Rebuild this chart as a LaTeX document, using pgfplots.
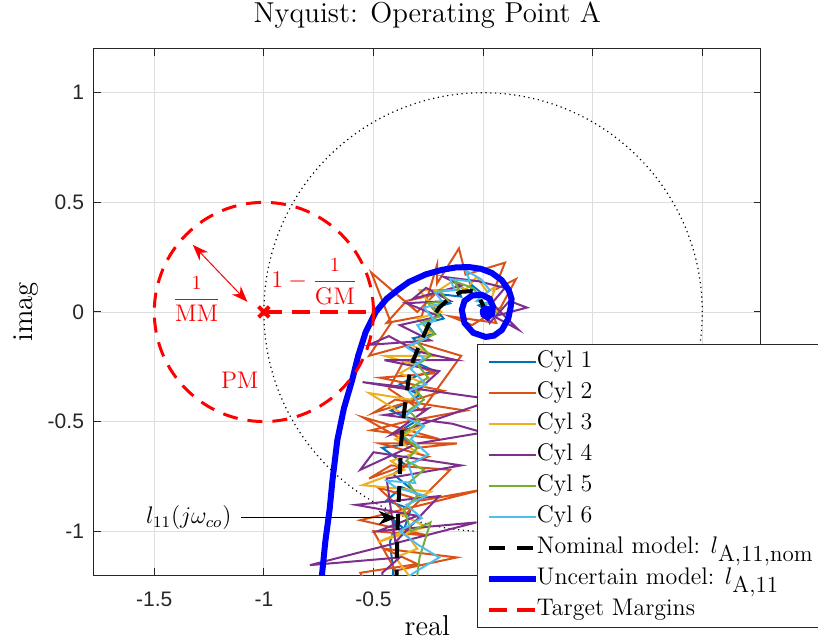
\documentclass[border=0pt]{standalone}
\usepackage{pgfplots}
\pgfplotsset{compat=1.18}
\usepackage{fontspec}
\setsansfont{Liberation Sans}
\usetikzlibrary{arrows.meta}
\definecolor{c1}{rgb}{0,0.447,0.741}
\definecolor{c2}{rgb}{0.850,0.325,0.098}
\definecolor{c3}{rgb}{0.929,0.694,0.125}
\definecolor{c4}{rgb}{0.494,0.184,0.556}
\definecolor{c5}{rgb}{0.466,0.674,0.188}
\definecolor{c6}{rgb}{0.301,0.745,0.933}
\definecolor{axc}{rgb}{0.15,0.15,0.15}
\newcommand{\subtxt}[1]{\raisebox{-4pt}{\fontsize{11.5}{12}\selectfont #1}}
\begin{document}
\begin{tikzpicture}
\begin{axis}[name=ax,
  x=109.6pt, y=109.6pt,
  xmin=-1.775, xmax=1.266, ymin=-1.2, ymax=1.2,
  xtick={-1.5,-1,-0.5,0,0.5,1}, xticklabels={-1.5,-1,-0.5,0,0.5,1},
  ytick={-1,-0.5,0,0.5,1}, yticklabels={-1,-0.5,0,0.5,1},
  tick align=inside, major tick length=3.5pt,
  grid=major, major grid style={line width=0.4pt, color=black!13},
  axis line style={line width=0.5pt, color=axc},
  every tick/.style={axc, line width=0.5pt},
  tick label style={font=\sffamily\fontsize{10.5}{12}\selectfont, color=axc},
  xticklabel style={yshift=-5pt},
  yticklabel style={xshift=-1.5pt},
  title={Nyquist: Operating Point A},
  title style={font=\fontsize{14.4}{17}\selectfont, at={(axis description cs:0.5,1)}, anchor=base, yshift=7pt},
  xlabel={real},
  xlabel style={font=\fontsize{14.4}{17}\selectfont, at={(axis description cs:0.5,0)}, anchor=base, yshift=-30pt},
  ylabel={imag},
  ylabel style={font=\fontsize{14.4}{17}\selectfont, at={(axis description cs:-0.093,0.5)}, anchor=base},
  legend style={at={(axis description cs:0.5746,0.4392)}, anchor=north west, draw=axc, line width=0.5pt, fill=white,
    font=\fontsize{12}{14}\selectfont, inner xsep=4pt, inner ysep=1pt, row sep=0pt, cells={anchor=west},
    nodes={inner xsep=0pt, inner ysep=1.5pt, text height=9pt, text depth=3.5pt},
    /tikz/every odd column/.append style={column sep=-0.8pt}},
  legend image code/.code={\draw[#1] (0pt,0pt) -- (23.5pt,0pt);},
]
\draw[black, line width=0.6pt, dash pattern=on 0.6pt off 1.8pt] (axis cs:0,0) circle[radius=1];

\addplot[c1, line width=1pt] coordinates {
(-0.42,-1.32) (-0.41,-1.18) (-0.425,-1.05) (-0.40,-0.97) (-0.43,-0.93) (-0.36,-0.99) (-0.33,-0.9) (-0.44,-0.86) (-0.37,-0.8) (-0.30,-0.83) (-0.41,-0.74) (-0.35,-0.7) (-0.46,-0.62) (-0.33,-0.6) (-0.39,-0.55) (-0.31,-0.5) (-0.42,-0.45) (-0.36,-0.42) (-0.29,-0.38) (-0.38,-0.33) (-0.30,-0.29) (-0.22,-0.27) (-0.33,-0.22) (-0.27,-0.17) (-0.32,-0.12) (-0.22,-0.1) (-0.26,-0.05) (-0.18,-0.03) (-0.22,0.02) (-0.15,0.04) (-0.19,0.08) (-0.10,0.07) (-0.12,0.12) (-0.05,0.09) (-0.06,0.13) (0.0,0.08) (0.04,0.05) (-0.02,0.03) (0.03,0.0) (0.01,-0.02) (0.015,0.0)};
\addlegendentry{Cyl 1}
\addplot[c2, line width=1pt] coordinates {
(-0.50,-1.32) (-0.56,-1.19) (-0.30,-1.15) (-0.45,-1.08) (-0.12,-1.12) (-0.40,-1.18) (-0.50,-1.0) (-0.25,-1.02) (-0.56,-0.95) (0.0,-0.81) (-0.28,-0.86) (-0.48,-0.80) (-0.35,-0.92) (-0.15,-0.72) (-0.42,-0.70) (-0.52,-0.76) (-0.25,-0.66) (-0.47,-0.6) (-0.12,-0.6) (-0.30,-0.62) (-0.55,-0.48) (-0.2,-0.58) (-0.51,-0.54) (-0.35,-0.50) (-0.08,-0.45) (-0.40,-0.40) (-0.50,-0.46) (-0.18,-0.36) (-0.47,-0.30) (-0.22,-0.28) (-0.36,-0.22) (-0.43,-0.35) (-0.28,-0.45) (-0.10,-0.20) (-0.30,-0.14) (-0.52,-0.2) (-0.42,-0.05) (-0.51,0.18) (-0.30,0.0) (-0.22,0.08) (-0.35,0.05) (-0.44,-0.05) (-0.28,-0.02) (-0.21,0.215) (-0.21,0.13) (-0.11,0.29) (-0.08,0.17) (0.10,0.225) (0.05,0.10) (0.15,0.15) (0.08,0.02) (-0.05,-0.06) (-0.15,-0.02) (0.06,-0.05) (0.03,0.02) (0.015,0.0)};
\addlegendentry{Cyl 2}
\addplot[c3, line width=1pt] coordinates {
(-0.36,-1.32) (-0.34,-1.2) (-0.40,-1.12) (-0.30,-1.08) (-0.36,-1.0) (-0.48,-1.05) (-0.26,-0.98) (-0.38,-0.92) (-0.32,-0.86) (-0.24,-0.82) (-0.55,-0.79) (-0.36,-0.72) (-0.42,-0.68) (-0.30,-0.64) (-0.40,-0.58) (-0.28,-0.52) (-0.36,-0.47) (-0.52,-0.37) (-0.33,-0.4) (-0.26,-0.33) (-0.38,-0.28) (-0.31,-0.24) (-0.45,-0.2) (-0.22,-0.2) (-0.33,-0.15) (-0.24,-0.09) (-0.30,-0.03) (-0.19,0.0) (-0.26,0.06) (-0.29,0.10) (-0.20,0.10) (-0.14,0.14) (-0.08,0.10) (-0.03,0.16) (0.02,0.09) (0.06,0.12) (0.03,0.04) (0.07,0.0) (0.02,-0.03) (0.015,0.0)};
\addlegendentry{Cyl 3}
\addplot[c4, line width=1pt] coordinates {
(-0.46,-1.32) (-0.46,-1.19) (-0.38,-1.12) (-0.79,-1.155) (-0.03,-0.96) (-0.48,-1.0) (-0.30,-0.93) (-0.58,-0.88) (-0.20,-0.84) (-0.40,-1.05) (-0.44,-0.76) (-0.10,-0.70) (-0.50,-0.64) (-0.56,-0.72) (-0.30,-0.60) (0.0,-0.55) (-0.14,-0.51) (-0.45,-0.47) (-0.25,-0.44) (-0.42,-0.56) (0.05,-0.40) (-0.38,-0.34) (-0.55,-0.32) (-0.30,-0.36) (-0.20,-0.27) (-0.45,-0.22) (-0.12,-0.22) (-0.30,-0.18) (-0.43,-0.11) (-0.52,-0.15) (-0.24,-0.13) (-0.38,-0.06) (-0.20,-0.02) (-0.35,0.04) (-0.15,0.05) (-0.26,0.11) (-0.32,0.06) (-0.10,0.12) (-0.18,0.16) (-0.02,0.14) (0.10,0.11) (0.04,0.04) (0.16,-0.08) (0.05,-0.02) (0.20,0.02) (0.12,0.05) (0.03,-0.05) (0.015,0.0)};
\addlegendentry{Cyl 4}
\addplot[c5, line width=1pt] coordinates {
(-0.32,-1.32) (-0.30,-1.2) (-0.29,-1.12) (-0.24,-0.96) (-0.33,-1.0) (-0.36,-0.9) (-0.30,-0.84) (-0.34,-0.78) (-0.27,-0.72) (-0.35,-0.68) (-0.30,-0.62) (-0.37,-0.56) (-0.29,-0.50) (-0.34,-0.45) (-0.27,-0.40) (-0.32,-0.34) (-0.25,-0.30) (-0.30,-0.24) (-0.24,-0.20) (-0.30,-0.14) (-0.22,-0.10) (-0.28,-0.05) (-0.20,-0.02) (-0.25,0.04) (-0.16,0.05) (-0.20,0.10) (-0.11,0.10) (-0.13,0.14) (-0.05,0.11) (-0.02,0.08) (0.04,0.06) (0.0,0.02) (0.05,0.0) (0.015,0.0)};
\addlegendentry{Cyl 5}
\addplot[c6, line width=1pt] coordinates {
(-0.42,-1.32) (-0.36,-1.22) (-0.30,-1.18) (-0.20,-1.12) (-0.30,-1.06) (-0.38,-1.0) (-0.28,-0.94) (-0.35,-0.88) (-0.26,-0.84) (-0.40,-0.80) (-0.44,-0.77) (-0.31,-0.78) (-0.34,-0.70) (-0.25,-0.65) (-0.33,-0.58) (-0.27,-0.52) (-0.36,-0.48) (-0.29,-0.42) (-0.34,-0.36) (-0.26,-0.33) (-0.33,-0.26) (-0.27,-0.21) (-0.35,-0.16) (-0.26,-0.12) (-0.30,-0.06) (-0.22,-0.04) (-0.27,0.02) (-0.18,0.04) (-0.22,0.09) (-0.13,0.10) (-0.15,0.15) (-0.06,0.14) (-0.08,0.19) (-0.01,0.15) (0.03,0.10) (-0.03,0.05) (0.05,0.03) (0.0,-0.02) (0.015,0.0)};
\addlegendentry{Cyl 6}
\addplot[black, line width=2pt, dash pattern=on 8pt off 6pt] coordinates {
(-0.396,-1.25) (-0.392,-1.05) (-0.387,-0.9) (-0.38,-0.75) (-0.374,-0.6) (-0.362,-0.47) (-0.347,-0.356) (-0.33,-0.25) (-0.29,-0.15) (-0.25,-0.06) (-0.2,0.02) (-0.15,0.065) (-0.1,0.092) (-0.05,0.095) (-0.02,0.07) (0.0,0.03) (0.01,0.0)};
\addlegendentry{Nominal model: $l$\subtxt{A,11,nom}}
\addplot[blue, line width=3pt] coordinates {
(-0.745,-1.3) (-0.734,-1.19) (-0.72,-1.05) (-0.70,-0.9) (-0.687,-0.767) (-0.665,-0.585) (-0.635,-0.44) (-0.597,-0.31) (-0.57,-0.2) (-0.535,-0.09) (-0.49,0.0) (-0.44,0.06) (-0.39,0.1) (-0.338,0.137) (-0.26,0.172) (-0.188,0.192) (-0.125,0.203) (-0.065,0.205) (-0.01,0.197) (0.04,0.178) (0.085,0.145) (0.117,0.1) (0.13,0.06) (0.126,0.023) (0.115,-0.03) (0.086,-0.082) (0.05,-0.108) (0.012,-0.114) (-0.045,-0.095) (-0.085,-0.05) (-0.097,0.009) (-0.085,0.05) (-0.05,0.075) (-0.006,0.078) (0.03,0.06) (0.045,0.025) (0.04,-0.01) (0.02,-0.025) (0.005,-0.015) (0.012,0.0)};
\addlegendentry{Uncertain model: $l$\subtxt{A,11}}
\addplot[blue, only marks, mark=*, mark size=3pt, forget plot] coordinates {(0.014,0.0)};
\draw[red, line width=1.5pt, dash pattern=on 7.5pt off 5pt] (axis cs:-1,0) circle[radius=0.5];
\addplot[red, line width=2pt, dash pattern=on 9pt off 5pt] coordinates {(-1,0) (-0.5,0)};
\addlegendentry{Target Margins}
\addplot[red, only marks, mark=x, mark size=3.75pt, line width=2pt, forget plot] coordinates {(-1,0)};
\draw[red, line width=0.5pt, {Stealth[length=8pt,width=6pt]}-{Stealth[length=8pt,width=6pt]}] (axis cs:-1.324,0.306) -- (axis cs:-1.075,0.046);
\node[red, font=\fontsize{12}{14}\selectfont] at (axis cs:-1.307,0.06) {$\displaystyle\frac{\mbox{\fontsize{10}{12}\selectfont 1}}{\mathrm{MM}}$};
\node[red, font=\fontsize{12}{14}\selectfont] at (axis cs:-0.77,0.14) {$\displaystyle 1-\frac{\mbox{\fontsize{10}{12}\selectfont 1}}{\mathrm{GM}}$};
\node[red, font=\fontsize{12}{14}\selectfont] at (axis cs:-1.11,-0.31) {PM};
\draw[black, line width=0.5pt, -{Stealth[length=9pt,width=7pt]}] (axis cs:-1.105,-0.939) -- (axis cs:-0.395,-0.939);
\node[anchor=east, font=\fontsize{12}{14}\selectfont] at (axis cs:-1.115,-0.939) {$l_{11}(j\omega_{co})$};
\end{axis}
\pgfresetboundingbox
\path[use as bounding box] ([xshift=-47pt,yshift=-31pt]ax.south west) rectangle ([xshift=362pt,yshift=287.5pt]ax.south west);
\end{tikzpicture}
\end{document}
